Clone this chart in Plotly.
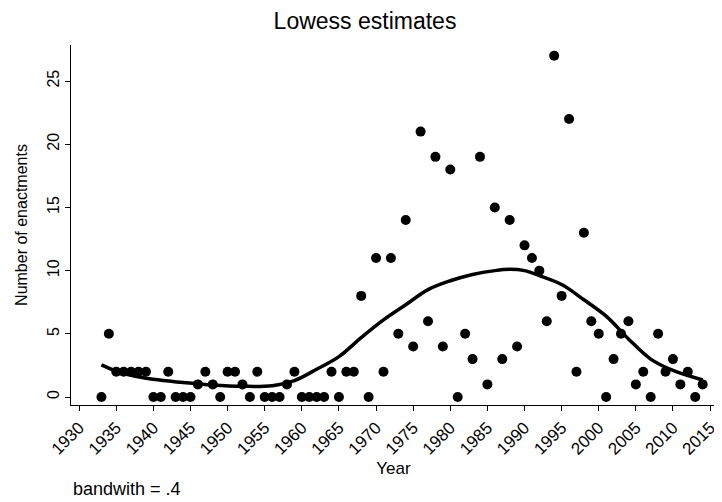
import plotly.graph_objects as go

years = list(range(1933, 2015))
enactments = [0, 5, 2, 2, 2, 2, 2, 0, 0, 2, 0, 0, 0, 1, 2, 1, 0, 2, 2, 1, 0, 2,
              0, 0, 0, 1, 2, 0, 0, 0, 0, 2, 0, 2, 2, 8, 0, 11, 2, 11, 5, 14, 4,
              21, 6, 19, 4, 18, 0, 5, 3, 19, 1, 15, 3, 14, 4, 12, 11, 10, 6, 27,
              8, 22, 2, 13, 6, 5, 0, 3, 5, 6, 1, 2, 0, 5, 2, 3, 1, 2, 0, 1]

lowess_years = [1933, 1936, 1940, 1944, 1948, 1952, 1956, 1959, 1962, 1965, 1968,
                1971, 1974, 1977, 1980, 1983, 1986, 1988, 1990, 1992, 1995, 1998,
                2001, 2004, 2007, 2010, 2014]
lowess_vals = [2.55, 1.85, 1.4, 1.15, 0.95, 0.85, 0.9, 1.3, 2.2, 3.2, 4.7,
               6.1, 7.3, 8.5, 9.2, 9.7, 10.0, 10.1, 10.0, 9.6, 8.9, 7.7,
               6.4, 4.6, 3.0, 2.1, 1.35]

x_ticks = list(range(1930, 2020, 5))
y_ticks = [0, 5, 10, 15, 20, 25]

FONT = "Liberation Sans, Arial, sans-serif"

fig = go.Figure()
fig.add_trace(go.Scatter(x=years, y=enactments, mode="markers",
                         marker=dict(color="black", size=10, line=dict(width=0)),
                         showlegend=False))
fig.add_trace(go.Scatter(x=lowess_years, y=lowess_vals, mode="lines",
                         line=dict(color="black", width=3.5, shape="spline", smoothing=1.0),
                         showlegend=False))

# the page body has an 8px default margin, so the figure is 714x494
fig.update_layout(
    width=714, height=494,
    margin=dict(l=63, r=6, t=37, b=97, autoexpand=False),
    paper_bgcolor="white", plot_bgcolor="white",
    font=dict(family=FONT, color="black", size=15),
    title=dict(text="Lowess estimates", x=0.5, xanchor="center", y=0.974, yanchor="middle",
               font=dict(size=23, family=FONT, color="black")),
    xaxis=dict(range=[1928.9, 2015.8], tickvals=x_ticks, ticktext=[str(t) for t in x_ticks],
               tickangle=-45, ticks="outside", ticklen=5, tickcolor="black",
               showline=True, linecolor="black", linewidth=1.2, showgrid=False, zeroline=False,
               tickfont=dict(size=17), automargin=False,
               title=dict(text="Year", font=dict(size=17), standoff=4)),
    yaxis=dict(range=[-0.63, 27.85], tickvals=y_ticks, tickangle=-90,
               ticks="outside", ticklen=5, tickcolor="black",
               showline=True, linecolor="black", linewidth=1.2, showgrid=False, zeroline=False,
               tickfont=dict(size=16), automargin=False,
               title=dict(text="Number of enactments", font=dict(size=16), standoff=12)),
    annotations=[dict(text="bandwith = .4", xref="paper", yref="paper", x=0.0, y=-0.232,
                      xanchor="left", yanchor="middle", showarrow=False,
                      font=dict(size=18, family=FONT, color="black"))],
)

fig.write_html("out.html")
